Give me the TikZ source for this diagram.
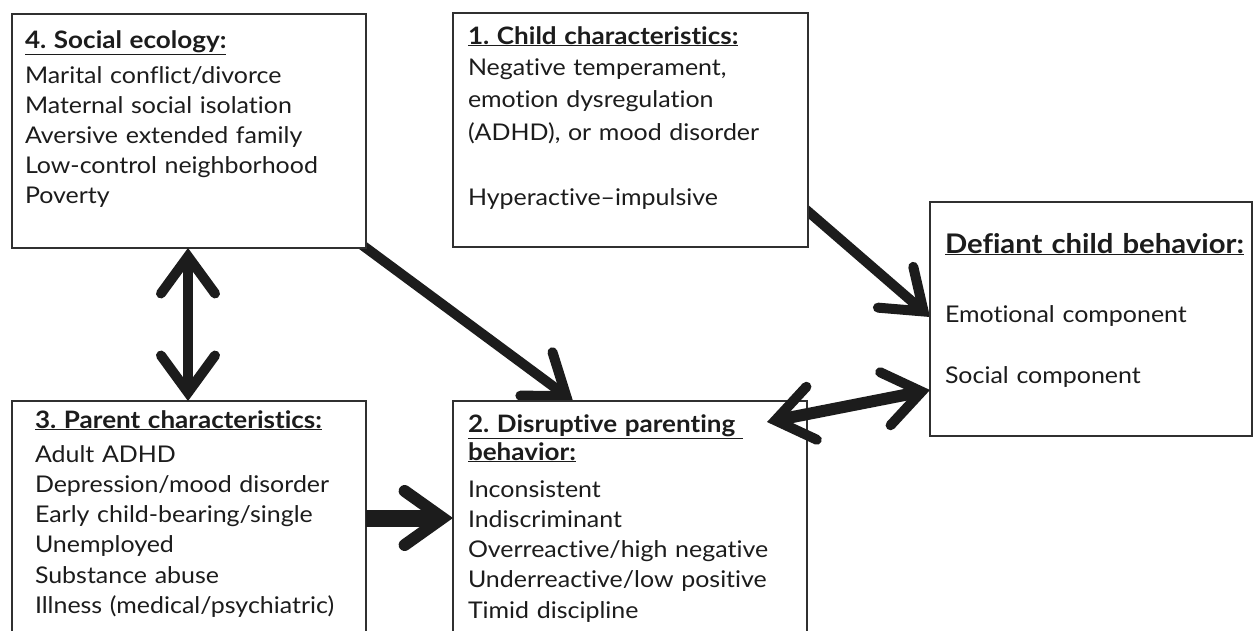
\documentclass[tikz,border=0pt]{standalone}
\usepackage{fontspec}
\setmainfont{Lato}[FakeStretch=1.085, Ligatures=NoCommon]
\usetikzlibrary{arrows.meta,calc,backgrounds}

\definecolor{ink}{HTML}{1C1C1C}
\definecolor{rim}{HTML}{303030}

\tikzset{
  box/.style={draw=rim, line width=1.6pt, fill=white, rectangle,
    inner sep=0pt, outer sep=0pt, anchor=north west},
  listtext/.style={text=ink, anchor=base west, inner sep=0pt, outer sep=0pt,
    align=left, text width=345pt},
  body/.style={font=\fontsize{23}{#1}\selectfont},
  body/.default=30.5pt,
  chev/.tip={Straight Barb[length=37pt, width=54pt, line width=10pt,
    line cap=round, line join=miter]},
  chevbig/.tip={Straight Barb[length=38pt, width=54pt, line width=12pt,
    line cap=round, line join=miter]},
  link/.style={draw=ink, line width=#1, -chev},
  link/.default=10pt,
  twoway/.style={draw=ink, line width=#1, chev-chev},
  twoway/.default=10pt,
}

\newcommand{\heading}[1]{{\fontsize{24}{24}\selectfont\textbf{\underline{#1}}}}

\begin{document}
\frenchspacing
\begin{tikzpicture}[x=1pt, y=-1pt]
  \useasboundingbox (0,0) rectangle (1254,630);
  \clip (0,0) rectangle (1254,630);

  % the five boxes
  \node[box, minimum width=354pt, minimum height=234pt] (eco)   at (12,14)  {};
  \node[box, minimum width=355pt, minimum height=234pt] (child) at (453,13) {};
  \node[box, minimum width=322pt, minimum height=234pt] (def)   at (930,202) {};
  \node[box, minimum width=354pt, minimum height=260pt] (par)   at (12,401) {};
  \node[box, minimum width=354pt, minimum height=260pt] (dis)   at (453,401) {};

  % box texts
  \node[listtext, body=30pt] (ecotext) at (25,48)
    {\heading{4. Social ecology:}\\[5pt]
     Marital conflict/divorce\\
     Maternal social isolation\\
     Aversive extended family\\
     Low-control neighborhood\\
     Poverty};

  \node[listtext, body=32.5pt] (childtext) at (468,44)
    {\heading{1. Child characteristics:}\\[-1.5pt]
     Negative temperament,\\
     emotion dysregulation\\
     (ADHD), or mood disorder\\[32.5pt]
     Hyperactive\textendash impulsive};

  \node[listtext, body=30.3pt] (partext) at (35,428)
    {\heading{3. Parent characteristics:}\\[3.7pt]
     Adult ADHD\\
     Depression/mood disorder\\
     Early child-bearing/single\\
     Unemployed\\
     Substance abuse\\
     Illness (medical/psychiatric)};

  \node[listtext, body=30.3pt] (distext) at (468,432)
    {\heading{2. Disruptive parenting }\\[-2.3pt]
     \heading{behavior:}\\[6.7pt]
     Inconsistent\\
     Indiscriminant\\
     Overreactive/high negative\\
     Underreactive/low positive\\
     Timid discipline};

  \node[listtext, text width=310pt, font=\fontsize{27}{30}\selectfont]
    (deftitle) at (945,253) {\textbf{\underline{Defiant child behavior:}}};
  \node[listtext, text width=300pt, body=61pt] (deftext) at (945,322)
    {Emotional component\\
     Social component};

  % connectors that leave a box from behind its border
  \begin{pgfonlayer}{background}
    \draw[link] ($(eco.south east)+(-12,-9)$) -- ($(dis.north west)+(120,0)$);
    \draw[link] ($(child.north east)+(-12,188)$) -- ($(def.north west)+(0,115)$);
  \end{pgfonlayer}

  % connectors drawn over the boxes
  \draw[twoway] ($(eco.south west)+(176,0)$) -- ($(par.north west)+(176,0)$);
  \draw[draw=ink, line width=17pt, -chevbig]
    ($(par.north east)+(0,117)$) -- ($(dis.north west)+(0,117)$);
  \draw[twoway=12pt] ($(dis.north east)+(-40,21)$) -- ($(def.north west)+(0,188)$);
\end{tikzpicture}
\end{document}
